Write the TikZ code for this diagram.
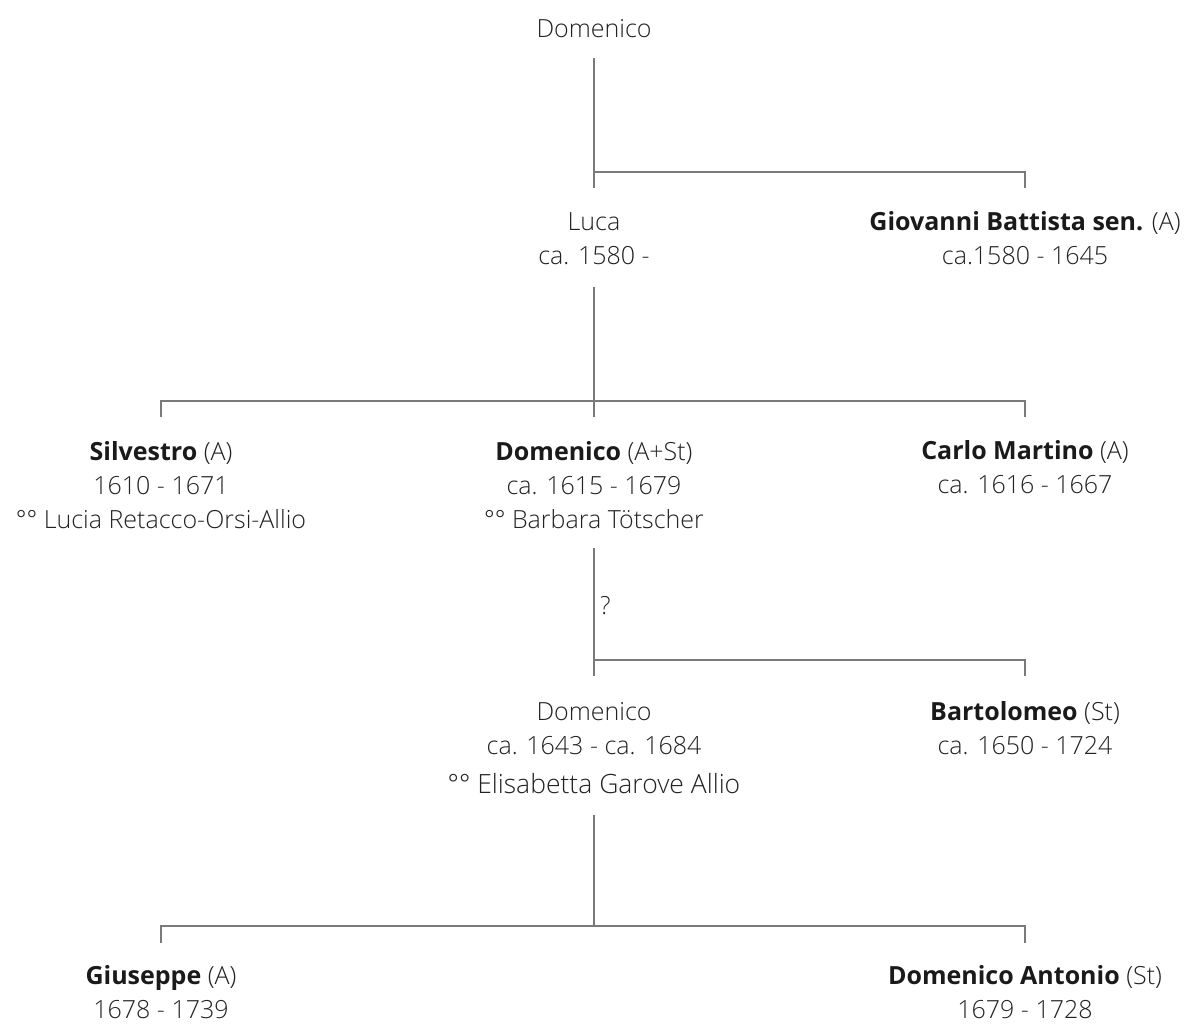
\documentclass[tikz,border=0pt]{standalone}
\usepackage{fontspec}
\setmainfont{Open Sans}[UprightFont=* Light, BoldFont=* Bold]
\definecolor{txt}{HTML}{222222}
\definecolor{bld}{HTML}{1A1A1A}
\definecolor{ln}{HTML}{7A7A7A}
\begin{document}
\begin{tikzpicture}[x=1pt,y=-1pt,
  person/.style={anchor=base, align=center, text=txt, inner sep=0pt,
    font=\fontsize{25}{34}\selectfont},
  conn/.style={draw=ln, line width=1.3pt}]
\useasboundingbox (0,0) rectangle (1185,1024);
\newcommand{\nm}[1]{{\bfseries\color{bld}#1}}
% persons (anchor = baseline of the last line)
\node[person] (d0) at (594,38) {Domenico};
\node[person] (luca) at (594,265) {Luca\\ca. 1580 -};
\node[person] (gb) at (1025,265) {\nm{Giovanni Battista sen.} (A)\\ca.1580 - 1645};
\node[person] (silv) at (161,528) {\nm{Silvestro} (A)\\1610 - 1671\\°° Lucia Retacco-Orsi-Allio};
\node[person] (dom1) at (594,528) {\nm{Domenico} (A+St)\\ca. 1615 - 1679\\°° Barbara Tötscher};
\node[person] (carlo) at (1025,493) {\nm{Carlo Martino} (A)\\ca. 1616 - 1667};
\node[person] (dom2) at (594,754) {Domenico\\ca. 1643 - ca. 1684};
\node[person, font=\fontsize{26.5}{35}\selectfont] (dom2b) at (594,793) {°° Elisabetta Garove Allio};
\node[person] (bart) at (1025,754) {\nm{Bartolomeo} (St)\\ca. 1650 - 1724};
\node[person] (gius) at (161,1018) {\nm{Giuseppe} (A)\\1678 - 1739};
\node[person] (doma) at (1025,1018) {\nm{Domenico Antonio} (St)\\1679 - 1728};
\node[person, anchor=base west] (q) at (600,614) {?};
% connector coordinates
\coordinate (a0) at (594,58);
\coordinate (a1) at (594,172);
\coordinate (a2) at (594,188);
\coordinate (a3) at (1025,172);
\coordinate (a4) at (1025,188);
\coordinate (b0) at (594,287);
\coordinate (b1) at (594,401);
\coordinate (b2) at (594,417);
\coordinate (b3) at (161,401);
\coordinate (b4) at (161,417);
\coordinate (b5) at (1025,401);
\coordinate (b6) at (1025,417);
\coordinate (c0) at (594,548);
\coordinate (c1) at (594,660);
\coordinate (c2) at (594,676);
\coordinate (c3) at (1025,660);
\coordinate (c4) at (1025,676);
\coordinate (e0) at (594,815);
\coordinate (e1) at (594,926);
\coordinate (e3) at (161,926);
\coordinate (e4) at (161,943);
\coordinate (e5) at (1025,926);
\coordinate (e6) at (1025,943);
% connectors
\draw[conn] (a0) -- (a2);
\draw[conn] (a1) -- (a3) -- (a4);
\draw[conn] (b0) -- (b2);
\draw[conn] (b4) -- (b3) -- (b5) -- (b6);
\draw[conn] (c0) -- (c2);
\draw[conn] (c1) -- (c3) -- (c4);
\draw[conn] (e0) -- (e1);
\draw[conn] (e4) -- (e3) -- (e5) -- (e6);
\end{tikzpicture}
\end{document}
